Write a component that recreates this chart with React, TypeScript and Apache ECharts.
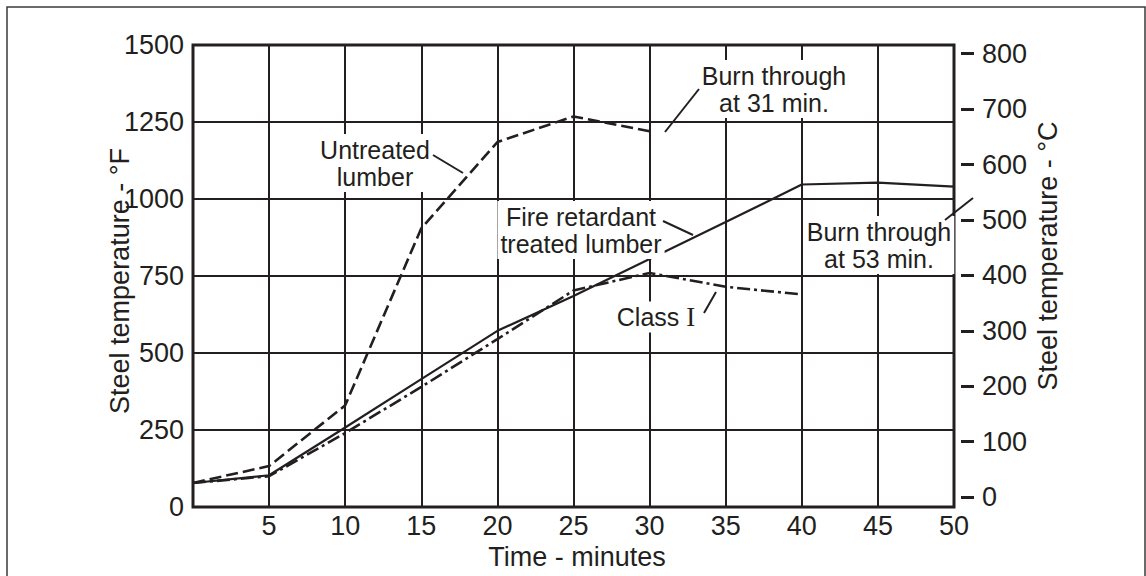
import React, { useEffect, useRef } from "react";
import * as echarts from "echarts";

const TIME = [0, 5, 10, 15, 20, 25, 30, 35, 40, 45, 50];
const UNTREATED = [78, 133, 330, 905, 1185, 1268, 1220];
const FIRE_RETARDANT = [78, 103, 258, 415, 572, 685, 805, 925, 1047, 1053, 1040];
const CLASS_I = [78, 100, 240, 390, 545, 703, 760, 715, 690];
const F_TICKS = [0, 250, 500, 750, 1000, 1250, 1500];
const C_TICKS = [0, 100, 200, 300, 400, 500, 600, 700, 800];

const INK = "#231f20";
const FONT = "'Liberation Sans', Arial, Helvetica, sans-serif";
const AX_FS = 27;

const pairs = (vals: number[]) => vals.map((v, i) => [TIME[i], v]);

export default function App() {
  const ref = useRef<HTMLDivElement>(null);
  useEffect(() => {
    if (!ref.current) return;
    const chart = echarts.init(ref.current, null, { renderer: "svg" });
    const txt = (text: string, x: number, y: number, extra: any = {}) => ({
      type: "text",
      x,
      y,
      z: 10,
      style: {
        text,
        fill: INK,
        fontSize: 25,
        fontFamily: FONT,
        align: "center",
        verticalAlign: "middle",
        lineHeight: 27,
        backgroundColor: "#fff",
        padding: [2, 3],
        ...extra,
      },
    });
    const lead = (x1: number, y1: number, x2: number, y2: number) => ({
      type: "line",
      z: 10,
      shape: { x1, y1, x2, y2 },
      style: { stroke: INK, lineWidth: 2 },
    });
    const title = (text: string, x: number, y: number, rot: number) => ({
      type: "text",
      x,
      y,
      rotation: rot,
      style: {
        text,
        fill: INK,
        fontSize: AX_FS,
        fontFamily: FONT,
        align: "center",
        verticalAlign: "middle",
      },
    });
    chart.setOption({
      animation: false,
      backgroundColor: "#fff",
      grid: {
        left: 193,
        right: 192,
        top: 45,
        bottom: 69,
        show: true,
        borderColor: INK,
        borderWidth: 3,
        backgroundColor: "transparent",
      },
      xAxis: {
        type: "value",
        min: 0,
        max: 50,
        interval: 5,
        axisLine: { show: false, onZero: false },
        axisTick: { show: false },
        splitLine: { show: true, lineStyle: { color: INK, width: 2 } },
        axisLabel: {
          fontSize: AX_FS,
          color: INK,
          fontFamily: FONT,
          margin: 5,
          formatter: (v: number) => (v === 0 ? "" : String(v)),
        },
      },
      yAxis: [
        {
          type: "value",
          min: F_TICKS[0],
          max: F_TICKS[F_TICKS.length - 1],
          interval: 250,
          position: "left",
          axisLine: { show: false, onZero: false },
          axisTick: { show: false },
          splitLine: { show: true, lineStyle: { color: INK, width: 2 } },
          axisLabel: {
            fontSize: AX_FS,
            color: INK,
            fontFamily: FONT,
            margin: 9,
            formatter: (v: number) => String(v),
          },
        },
        {
          type: "value",
          min: (0 - 32) / 1.8,
          max: (1500 - 32) / 1.8,
          position: "right",
          offset: 7,
          axisLine: { show: false, onZero: false },
          axisTick: {
            show: true,
            length: 13,
            customValues: C_TICKS,
            lineStyle: { color: INK, width: 3 },
          },
          splitLine: { show: false },
          axisLabel: {
            customValues: C_TICKS,
            fontSize: AX_FS,
            color: INK,
            fontFamily: FONT,
            margin: 21,
            formatter: (v: number) => String(v),
          },
        },
      ],
      series: [
        {
          name: "Untreated lumber",
          type: "line",
          data: pairs(UNTREATED),
          symbol: "none",
          z: 5,
          lineStyle: { color: INK, width: 2.6, type: [12, 5] },
        },
        {
          name: "Fire retardant treated lumber",
          type: "line",
          data: pairs(FIRE_RETARDANT),
          symbol: "none",
          z: 5,
          lineStyle: { color: INK, width: 2.2, type: "solid" },
        },
        {
          name: "Class I",
          type: "line",
          data: pairs(CLASS_I),
          symbol: "none",
          z: 5,
          lineStyle: { color: INK, width: 2.6, type: [13, 4, 3, 4] },
        },
      ],
      graphic: [
        {
          type: "rect",
          z: 0,
          shape: { x: 7, y: 7, width: 1138, height: 620 },
          style: { fill: "none", stroke: "#3a3a3a", lineWidth: 1.5 },
        },
        title("Steel temperature - °F", 120, 281, Math.PI / 2),
        title("Steel temperature - °C", 1048, 256, Math.PI / 2),
        title("Time - minutes", 577, 557, 0),
        txt("Untreated\nlumber", 375, 163),
        lead(433, 155, 463, 173),
        txt("Burn through\nat 31 min.", 774, 89),
        lead(699, 89, 665, 132),
        txt("Fire retardant\ntreated lumber", 581, 230),
        lead(663, 221, 693, 235),
        txt("Class {s|I}", 656, 317, {
          rich: { s: { fontFamily: "'Liberation Serif', serif", fontSize: 27, fill: INK } },
        }),
        lead(704, 313, 716, 292),
        txt("Burn through\nat 53 min.", 879, 245),
        lead(945, 220, 973, 198),
      ],
    });
    return () => chart.dispose();
  }, []);
  return (
    <div
      ref={ref}
      style={{ position: "absolute", left: 0, top: 0, width: 1146, height: 576 }}
    />
  );
}
